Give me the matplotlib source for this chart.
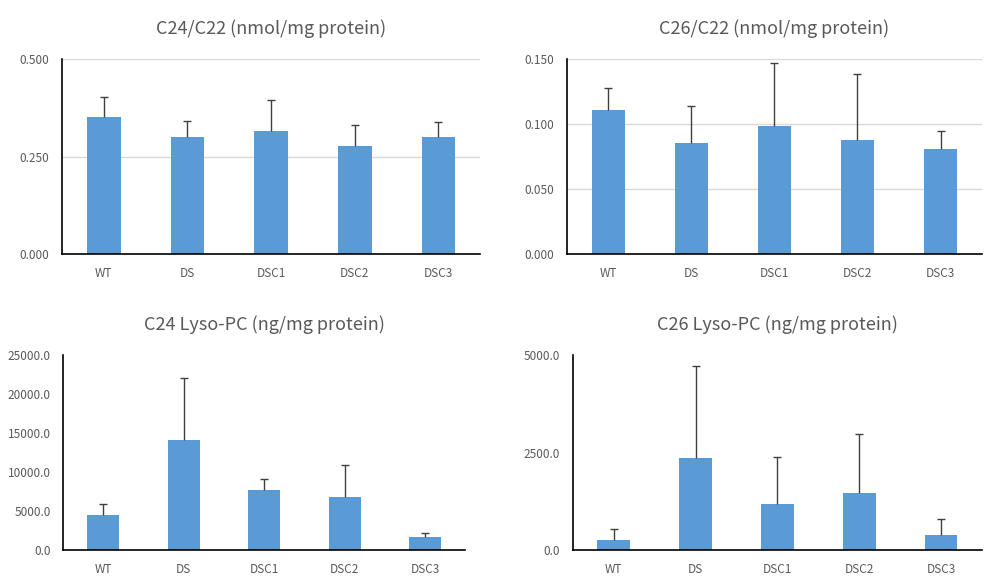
import numpy as np
import matplotlib
matplotlib.use('Agg')
import matplotlib.pyplot as plt
from matplotlib.ticker import FormatStrFormatter

plt.rcParams['font.family'] = ['Noto Sans CJK KR', 'DejaVu Sans']

groups = ['WT', 'DS', 'DSC1', 'DSC2', 'DSC3']

# C24/C22 (nmol/mg protein)
c24_c22 = [0.352, 0.301, 0.316, 0.277, 0.300]
c24_c22_err = [0.050, 0.039, 0.078, 0.054, 0.039]

# C26/C22 (nmol/mg protein)
c26_c22 = [0.1106, 0.0853, 0.0983, 0.0878, 0.0809]
c26_c22_err = [0.0174, 0.0287, 0.0487, 0.0509, 0.0140]

# C24 Lyso-PC (ng/mg protein)
c24_lpc = [4480, 14115, 7680, 6860, 1700]
c24_lpc_err = [1410, 7935, 1410, 4020, 550]

# C26 Lyso-PC (ng/mg protein)
c26_lpc = [264, 2355, 1185, 1459, 384]
c26_lpc_err = [289, 2371, 1211, 1511, 417]

panels = [
    ('C24/C22 (nmol/mg protein)', c24_c22, c24_c22_err, 0.5, [0, 0.25, 0.5], '%.3f', True,
     [0.0622, 0.565, 0.420, 0.334]),
    ('C26/C22 (nmol/mg protein)', c26_c22, c26_c22_err, 0.15, [0, 0.05, 0.10, 0.15], '%.3f', True,
     [0.569, 0.565, 0.417, 0.334]),
    ('C24 Lyso-PC (ng/mg protein)', c24_lpc, c24_lpc_err, 25000, np.arange(0, 25001, 5000), '%.1f', False,
     [0.0633, 0.0577, 0.404, 0.334]),
    ('C26 Lyso-PC (ng/mg protein)', c26_lpc, c26_lpc_err, 5000, [0, 2500, 5000], '%.1f', False,
     [0.575, 0.0577, 0.411, 0.334]),
]

fig = plt.figure(figsize=(9.96, 5.84), dpi=100)
x = np.arange(len(groups))
for title, vals, errs, ymax, ticks, fmt, grid, pos in panels:
    ax = fig.add_axes(pos)
    ax.bar(x, vals, width=0.4, color='#5B9BD5', zorder=2)
    # plus-only error bars, cap only at the top
    _, caps, _ = ax.errorbar(x, vals, yerr=[np.zeros(len(errs)), errs], fmt='none',
                             ecolor='#404040', elinewidth=1, capsize=3, capthick=1, zorder=3)
    caps[0].set_visible(False)
    ax.set_xlim(-0.5, len(groups) - 0.5)
    ax.set_ylim(0, ymax)
    ax.set_yticks(ticks)
    ax.yaxis.set_major_formatter(FormatStrFormatter(fmt))
    ax.set_xticks(x)
    ax.set_xticklabels(groups)
    if grid:
        ax.yaxis.grid(True, color='#D9D9D9', lw=1, zorder=0)
    ax.tick_params(axis='both', length=0, labelsize=8.5, colors='#595959')
    ax.tick_params(axis='y', pad=9)
    ax.tick_params(axis='x', pad=9)
    for s in ['top', 'right']:
        ax.spines[s].set_visible(False)
    for s in ['left', 'bottom']:
        ax.spines[s].set_color('#000000')
        ax.spines[s].set_linewidth(1.2)
    ax.set_title(title, fontsize=13, color='#595959', pad=18)

fig.savefig('out.png', dpi=100, facecolor='white')
